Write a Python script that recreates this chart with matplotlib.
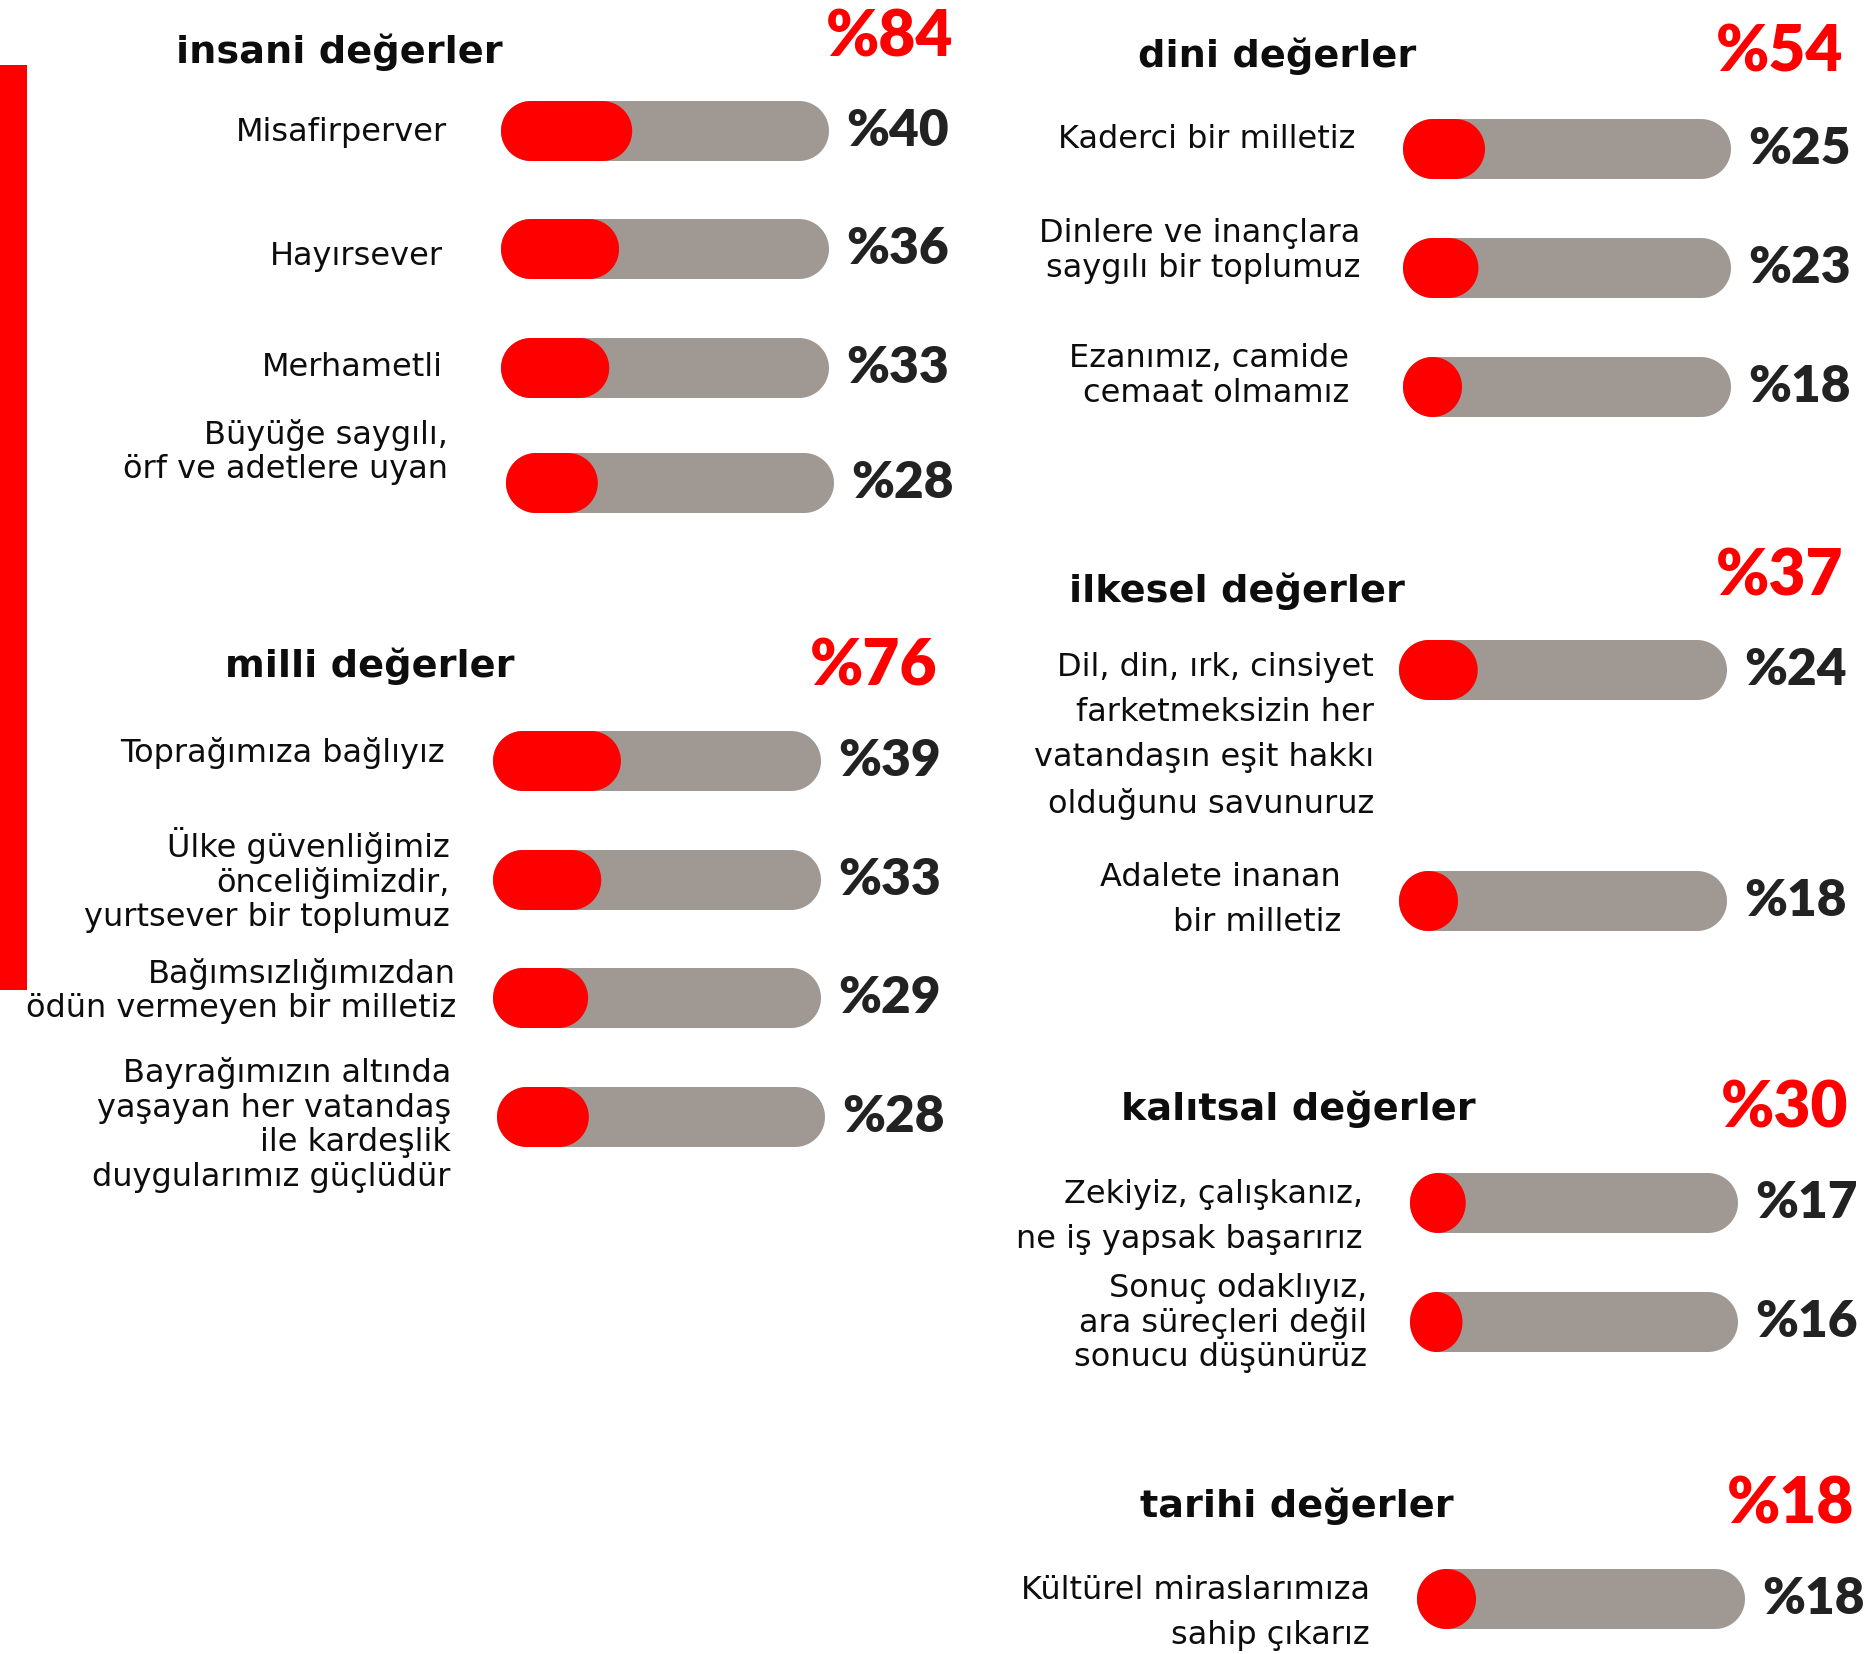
import numpy as np
import matplotlib
matplotlib.use("Agg")
import matplotlib.pyplot as plt
from matplotlib.patches import Polygon, Rectangle

plt.rcParams['font.family'] = ['DejaVu Sans']
NUM_FONT = ['Lato', 'DejaVu Sans']

# --- data -------------------------------------------------------------
group_titles = ["insani değerler", "milli değerler", "dini değerler",
                "ilkesel değerler", "kalıtsal değerler", "tarihi değerler"]
group_totals = [84, 76, 54, 37, 30, 18]

insani_labels = ["Misafirperver", "Hayırsever", "Merhametli",
                 "Büyüğe saygılı,\nörf ve adetlere uyan"]
insani_values = [40, 36, 33, 28]

milli_labels = ["Toprağımıza bağlıyız",
                "Ülke güvenliğimiz\nönceliğimizdir,\nyurtsever bir toplumuz",
                "Bağımsızlığımızdan\nödün vermeyen bir milletiz",
                "Bayrağımızın altında\nyaşayan her vatandaş\nile kardeşlik\nduygularımız güçlüdür"]
milli_values = [39, 33, 29, 28]

dini_labels = ["Kaderci bir milletiz",
               "Dinlere ve inançlara\nsaygılı bir toplumuz",
               "Ezanımız, camide\ncemaat olmamız"]
dini_values = [25, 23, 18]

ilkesel_labels = ["Dil, din, ırk, cinsiyet\nfarketmeksizin her\nvatandaşın eşit hakkı\nolduğunu savunuruz",
                  "Adalete inanan\nbir milletiz"]
ilkesel_values = [24, 18]

kalitsal_labels = ["Zekiyiz, çalışkanız,\nne iş yapsak başarırız",
                   "Sonuç odaklıyız,\nara süreçleri değil\nsonucu düşünürüz"]
kalitsal_values = [17, 16]

tarihi_labels = ["Kültürel miraslarımıza\nsahip çıkarız"]
tarihi_values = [18]

group_labels = [insani_labels, milli_labels, dini_labels,
                ilkesel_labels, kalitsal_labels, tarihi_labels]
group_values = [insani_values, milli_values, dini_values,
                ilkesel_values, kalitsal_values, tarihi_values]

# --- layout (pixel positions) ----------------------------------------
W, H = 1867, 1654
RED = "#ff0000"
GREY = "#a09893"
BAR_W, BAR_H = 328, 60
TIGHT, LOOSE = 1.14, 1.58

layout = [
    dict(title=(339, 52), total=(953, 38), bar_x=[501, 501, 501, 506],
         rows=[131, 249, 368, 483], lab_x=[447, 443, 443, 448],
         lab_dy=[2, 7, 0, -31], ls=[TIGHT] * 4),
    dict(title=(370, 666), total=(937, 667), bar_x=[493, 493, 493, 497],
         rows=[761, 880, 998, 1117], lab_x=[445, 450, 456, 451],
         lab_dy=[-8, 0, -7, 8], ls=[TIGHT] * 4),
    dict(title=(1277, 56), total=(1843, 53), bar_x=[1403] * 3,
         rows=[149, 268, 387], lab_x=[1355, 1360, 1349],
         lab_dy=[-10, -17, -11], ls=[TIGHT] * 3),
    dict(title=(1237, 591), total=(1843, 577), bar_x=[1399] * 2,
         rows=[670, 901], lab_x=[1374, 1341],
         lab_dy=[66, -1], ls=[LOOSE, LOOSE]),
    dict(title=(1298, 1109), total=(1848, 1109), bar_x=[1410] * 2,
         rows=[1203, 1322], lab_x=[1363, 1367],
         lab_dy=[14, 1], ls=[LOOSE, TIGHT]),
    dict(title=(1297, 1506), total=(1854, 1505), bar_x=[1417],
         rows=[1599], lab_x=[1370],
         lab_dy=[14], ls=[LOOSE]),
]


def pill(x, yc, w, h, color):
    # rounded bar; ends become elliptical when the bar is shorter than tall
    rx = min(h / 2, w / 2)
    ry = h / 2
    t = np.linspace(np.pi / 2, 3 * np.pi / 2, 60)
    left = np.c_[x + rx + rx * np.cos(t), yc + ry * np.sin(t)]
    t2 = np.linspace(-np.pi / 2, np.pi / 2, 60)
    right = np.c_[x + w - rx + rx * np.cos(t2), yc + ry * np.sin(t2)]
    return Polygon(np.vstack([left, right]), closed=True,
                   facecolor=color, edgecolor="none")


fig = plt.figure(figsize=(W / 100, H / 100), dpi=100)
ax = fig.add_axes([0, 0, 1, 1])
ax.set_xlim(0, W)
ax.set_ylim(H, 0)
ax.axis("off")

# red accent strip on the left
ax.add_patch(Rectangle((0, 65), 27, 925, facecolor=RED, edgecolor="none"))

for title, total, labels, values, lay in zip(group_titles, group_totals,
                                             group_labels, group_values, layout):
    ax.text(lay["title"][0], lay["title"][1], title, ha="center", va="center",
            fontsize=27.5, fontweight="bold", color="#0d0d0d")
    ax.text(lay["total"][0], lay["total"][1], "%" + str(total), ha="right",
            va="center", fontsize=46, fontweight="heavy", color=RED,
            family=NUM_FONT)
    for i, (lab, val) in enumerate(zip(labels, values)):
        x0 = lay["bar_x"][i]
        yc = lay["rows"][i]
        ax.add_patch(pill(x0, yc, BAR_W, BAR_H, GREY))
        ax.add_patch(pill(x0, yc, BAR_W * val / 100, BAR_H, RED))
        ax.text(x0 + BAR_W + 17, yc, "%" + str(val), ha="left", va="center",
                fontsize=37, fontweight="heavy", color="#222222",
                family=NUM_FONT)
        ax.text(lay["lab_x"][i], yc + lay["lab_dy"][i], lab, ha="right",
                va="center", fontsize=23, color="#0d0d0d",
                linespacing=lay["ls"][i])

fig.savefig("out.png", dpi=100, facecolor="white")
